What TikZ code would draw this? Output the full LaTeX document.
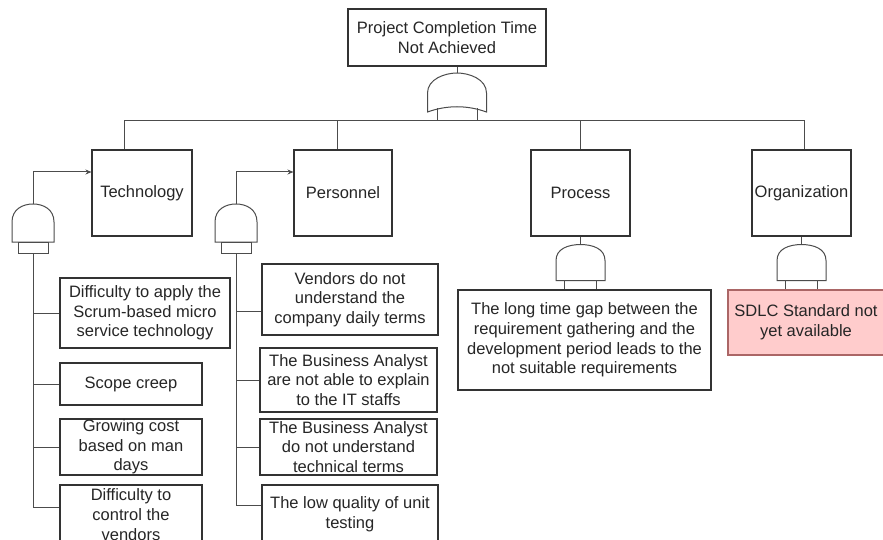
\documentclass[tikz,border=0pt]{standalone}
\usepackage{fontspec}
\setmainfont{Liberation Sans}
\usetikzlibrary{arrows.meta}
\tikzset{
  box/.style={draw=black!80, line width=1.1pt, fill=white, inner sep=0pt, align=center,
    text=black!85, font=\fontsize{16.5}{19.7}\selectfont},
  wire/.style={draw=black!70, line width=1pt},
  gate/.style={draw=black!70, line width=1pt, fill=white},
  pics/topgate/.style={code={
    \draw[gate] (-29.5,39) -- (-29.5,20) .. controls (-29.5,6) and (-12,0) .. (0,0)
      .. controls (12,0) and (29.5,6) .. (29.5,20) -- (29.5,39)
      .. controls (10,32) and (-10,32) .. cycle;
    \draw[gate] (-20,35.5) -- (-20,48) (20,35.5) -- (20,48);
    \coordinate (-in) at (0,0);
  }},
  pics/andgate/.style={code={
    \draw[gate] (-24.5,36) -- (-24.5,16) .. controls (-24.5,4) and (-12,0) .. (0,0)
      .. controls (12,0) and (24.5,4) .. (24.5,16) -- (24.5,36) -- cycle;
    \draw[gate] (-16,36) -- (-16,46) (16,36) -- (16,46);
    \coordinate (-in) at (0,0);
  }},
  pics/basegate/.style={code={
    \draw[gate] (-21,38) -- (-21,18) .. controls (-21,5) and (-10,0) .. (0,0)
      .. controls (10,0) and (21,5) .. (21,18) -- (21,38) -- cycle;
    \draw[gate] (-15,38) rectangle (15,49);
    \coordinate (-in) at (0,0);
    \coordinate (-out) at (0,49);
  }}
}
\begin{document}
\begin{tikzpicture}[>={Stealth[length=6pt,width=5pt]}, x=1pt, y=-1pt]
  \useasboundingbox (0,0) rectangle (883,540);
  \clip (0,0) rectangle (883,540);
  \fill[white] (0,0) rectangle (883,540);

  \node[box, minimum width=198pt, minimum height=57pt] (top) at (447,37.5) {Project Completion Time\\Not Achieved};
  \pic (gtop) at (457,73) {topgate};

  \node[box, minimum width=100pt, minimum height=86pt] (tech) at (142,193) {Technology};
  \node[box, minimum width=98pt, minimum height=86pt] (pers) at (343,193) {Personnel};
  \node[box, minimum width=99pt, minimum height=86pt] (proc) at (580.5,193) {Process};
  \node[box, minimum width=99pt, minimum height=86pt] (org) at (801.5,193) {Organization};

  \draw[wire] ([xshift=10pt]top.south) -- (gtop-in);
  \draw[wire] ([xshift=-18pt]tech.north) -- ++(0,-29) -| ([xshift=2.5pt]org.north);
  \draw[wire] ([xshift=-6pt]pers.north) -- ++(0,-29);
  \draw[wire] (proc.north) -- ++(0,-29);

  \pic (g1) at (33,204) {basegate};
  \pic (g2) at (236,204) {basegate};
  \pic (g3) at ([yshift=-8pt]proc.south) {andgate};
  \pic (g4) at ([yshift=-8pt]org.south) {andgate};

  \draw[wire, ->] (g1-in) |- ([yshift=21pt]tech.west);
  \draw[wire, ->] (g2-in) |- ([yshift=21pt]pers.west);
  \draw[wire] (proc.south) -- (g3-in);
  \draw[wire] (org.south) -- (g4-in);

  \node[box, minimum width=170pt, minimum height=70pt] (apply) at (145,313) {Difficulty to apply the\\Scrum-based micro\\service technology};
  \node[box, minimum width=142pt, minimum height=42pt] (scope) at (131,384) {Scope creep};
  \node[box, minimum width=142pt, minimum height=56pt] (cost) at (131,447) {Growing cost\\based on man\\days};
  \node[box, minimum width=142pt, minimum height=59pt] (vendors) at (131,514.5) {Difficulty to\\control the\\vendors};

  \node[box, minimum width=176pt, minimum height=71pt] (daily) at (350,299.5) {Vendors do not\\understand the\\company daily terms};
  \node[box, minimum width=177pt, minimum height=64pt] (explain) at (348.5,380) {The Business Analyst\\are not able to explain\\to the IT staffs};
  \node[box, minimum width=177pt, minimum height=56pt] (terms) at (348.5,447) {The Business Analyst\\do not understand\\technical terms};
  \node[box, minimum width=176pt, minimum height=59pt] (unit) at (350,514.5) {The low quality of unit\\testing};

  \node[box, minimum width=253pt, minimum height=100pt] (gap) at (584.5,340) {The long time gap between the\\requirement gathering and the\\development period leads to the\\not suitable requirements};
  \node[box, draw=red!45!black!60, fill=red!20, minimum width=156pt, minimum height=65pt] (sdlc) at (806,322.5) {SDLC Standard not\\yet available};

  \draw[wire] (g1-out) |- (apply.west);
  \draw[wire] (g1-out) |- (scope.west);
  \draw[wire] (g1-out) |- (cost.west);
  \draw[wire] (g1-out) |- ([yshift=7pt]vendors.west);

  \draw[wire] (g2-out) |- ([yshift=-12pt]daily.west);
  \draw[wire] (g2-out) |- (explain.west);
  \draw[wire] (g2-out) |- (terms.west);
  \draw[wire] (g2-out) |- ([yshift=9pt]unit.west);
\end{tikzpicture}
\end{document}
